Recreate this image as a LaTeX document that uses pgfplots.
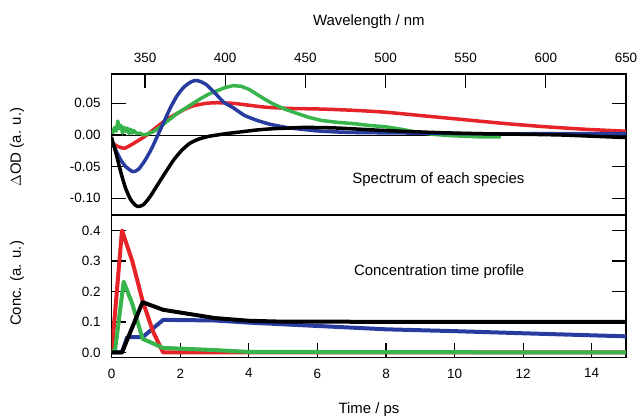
\documentclass[border=0pt]{standalone}
\usepackage{fontspec}
\setmainfont{Liberation Sans}
\usepackage{pgfplots}
\pgfplotsset{compat=1.18}
\definecolor{cred}{RGB}{230,35,40}
\definecolor{cgreen}{RGB}{55,180,75}
\definecolor{cblue}{RGB}{40,60,160}
\pgfplotsset{
  panel/.style={
    scale only axis, width=514.3bp,
    axis line style={line width=1.2bp, black},
    tick align=inside, major tick length=14bp,
    every tick/.append style={line width=1.2bp, black},
    tick label style={font=\fontsize{13.5}{15}\selectfont, inner sep=11bp},
    /pgf/number format/assume math mode=true,
  }
}
\begin{document}
\begin{tikzpicture}
\path[use as bounding box] (0bp,0bp) rectangle (639bp,419bp);
% ---------------- top panel: spectra ----------------
\begin{axis}[panel, at={(111.7bp,204bp)}, anchor=south west, height=141bp,
  xmin=329.2, xmax=650, ymin=-0.1264, ymax=0.0964,
  xtick={350,400,450,500,550,600,650}, xtick pos=right, xticklabel pos=right,
  ytick={-0.1,-0.05,0,0.05}, ytick pos=both, yticklabel pos=left,
  yticklabel style={/pgf/number format/.cd, fixed, fixed zerofill, precision=2},
]
\addplot[black, line width=1bp] coordinates {(329.2,0) (650,0)};
% red
\addplot[cred, line width=3.5bp, line join=round, smooth, tension=0.4] coordinates {
(329,-0.012) (333,-0.018) (337,-0.021) (341,-0.016) (345,-0.010) (350,-0.002)
(355,0.008) (360,0.018) (365,0.027) (370,0.034) (375,0.041) (380,0.046)
(388,0.050) (395,0.051) (405,0.050) (415,0.047) (425,0.044) (440,0.042)
(460,0.041) (480,0.039) (500,0.036) (525,0.030) (550,0.024) (575,0.018)
(600,0.013) (625,0.009) (650,0.006)};
% green
\addplot[cgreen, line width=3.5bp, line join=round] coordinates {
(329,0.008) (330,0.004) (331,0.012) (332,0.006) (333,0.022) (334,0.010)
(335,0.015) (336,0.003) (337,0.012) (338,0.006) (339,0.011) (340,0.002)
(341,0.009) (342,0.003) (343,0.007) (345,0.002) (347,0.003) (349,0.000)
(352,0.002) (355,0.005) (358,0.010) (362,0.018) (366,0.026) (370,0.034)
(375,0.042) (380,0.050) (385,0.058) (390,0.065) (395,0.070) (400,0.075)
(405,0.078) (410,0.077) (415,0.072) (420,0.064) (425,0.056) (430,0.049)
(437,0.041) (445,0.034) (452,0.028) (460,0.023) (470,0.020) (480,0.018)
(490,0.015) (500,0.013) (510,0.009) (520,0.004) (530,0.001) (540,-0.001)
(550,-0.002) (560,-0.003) (572,-0.003)};
% blue
\addplot[cblue, line width=3.5bp, line join=round, smooth, tension=0.4] coordinates {
(329,-0.010) (332,-0.025) (335,-0.040) (338,-0.050) (341,-0.056) (343,-0.058)
(346,-0.054) (350,-0.040) (354,-0.022) (358,0.000) (362,0.022) (366,0.044)
(370,0.062) (374,0.075) (378,0.083) (381,0.086) (384,0.085) (388,0.080)
(393,0.068) (399,0.052) (405,0.043) (412,0.031) (420,0.023) (428,0.017)
(438,0.012) (448,0.009) (460,0.006) (480,0.004) (520,0.003) (560,0.002)
(600,0.002) (640,0.002) (650,0.002)};
% black
\addplot[black, line width=3.5bp, line join=round, smooth, tension=0.4] coordinates {
(329,-0.003) (332,-0.030) (335,-0.060) (338,-0.085) (341,-0.102) (344,-0.111)
(346,-0.113) (349,-0.110) (353,-0.098) (357,-0.082) (362,-0.062) (368,-0.039)
(373,-0.024) (378,-0.013) (384,-0.006) (390,-0.002) (395,0.000) (400,0.002)
(410,0.005) (420,0.008) (430,0.010) (440,0.011) (450,0.012) (470,0.011)
(500,0.007) (530,0.004) (560,0.002) (590,0.001) (610,0.000) (630,-0.002)
(650,-0.004)};
\node[font=\fontsize{15}{18}\selectfont] at (axis cs:533,-0.071) {Spectrum of each species};
\end{axis}
% ---------------- bottom panel: concentrations ----------------
\begin{axis}[panel, at={(111.7bp,61.5bp)}, anchor=south west, height=142.5bp,
  xmin=0, xmax=15, ymin=-0.0164, ymax=0.4508,
  xtick={0,2,4,6,8,10,12,14}, xtick pos=left, xticklabel pos=left,
  ytick={0,0.1,0.2,0.3,0.4}, ytick pos=both, yticklabel pos=left,
  yticklabel style={/pgf/number format/.cd, fixed, fixed zerofill, precision=1},
]
% blue
\addplot[cblue, line width=4bp, line join=round] coordinates {
(0,0) (0.3,0.0) (0.45,0.05) (0.9,0.05) (1.5,0.107) (3,0.105) (4,0.098)
(6,0.087) (8,0.076) (10,0.070) (12,0.063) (15,0.053)};
% red
\addplot[cred, line width=4bp, line join=round] coordinates {
(0,0) (0.3,0.40) (0.6,0.30) (0.9,0.17) (1.2,0.07) (1.5,0.0) (4,0.0) (15,0.0)};
% green
\addplot[cgreen, line width=4bp, line join=round] coordinates {
(0,0) (0.1,0.01) (0.35,0.232) (0.6,0.16) (0.9,0.045) (1.5,0.015) (3,0.008)
(4,0.002) (15,0.0)};
% black
\addplot[black, line width=4bp, line join=round] coordinates {
(0,0) (0.3,0.0) (0.9,0.165) (1.5,0.140) (3,0.113) (4,0.104) (5,0.101) (15,0.100)};
\node[font=\fontsize{15}{18}\selectfont] at (axis cs:9.55,0.265) {Concentration time profile};
\end{axis}
% ---------------- axis titles ----------------
\node[font=\fontsize{15}{18}\selectfont] at (368.8bp,397bp) {Wavelength / nm};
\node[font=\fontsize{15}{18}\selectfont] at (369bp,9bp) {Time / ps};
\node[font=\fontsize{15}{18}\selectfont, rotate=90] at (17bp,272bp) {$\Delta$OD (a. u.)};
\node[font=\fontsize{15}{18}\selectfont, rotate=90] at (17bp,135.5bp) {Conc. (a. u.)};
\end{tikzpicture}
\end{document}
